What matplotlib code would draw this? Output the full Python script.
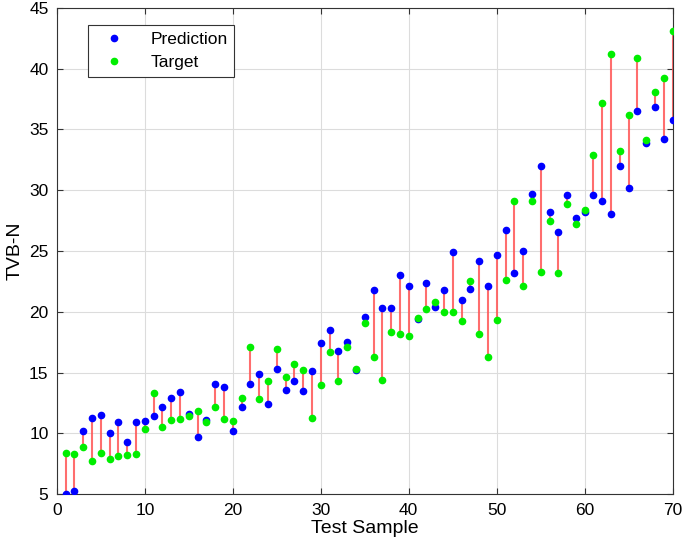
import matplotlib
matplotlib.use('Agg')
import matplotlib.pyplot as plt
import numpy as np

plt.rcParams['font.family'] = ['Liberation Sans', 'DejaVu Sans']

sample = np.arange(1, 71)
prediction = [5.0, 5.3, 10.2, 11.3, 11.5, 10.0, 10.9, 9.3, 10.9, 11.0,
              11.4, 12.2, 12.9, 13.4, 11.6, 9.7, 11.1, 14.1, 13.8, 10.2,
              12.2, 14.1, 14.9, 12.4, 15.3, 13.6, 14.3, 13.5, 15.1, 17.4,
              18.5, 16.8, 17.5, 15.2, 19.6, 21.8, 20.3, 20.3, 23.0, 22.1,
              19.4, 22.4, 20.4, 21.8, 24.9, 21.0, 21.9, 24.2, 22.1, 24.7,
              26.7, 23.2, 25.0, 29.7, 32.0, 28.2, 26.6, 29.6, 27.7, 28.2,
              29.6, 29.1, 28.0, 32.0, 30.2, 36.5, 33.9, 36.8, 34.2, 35.8]
target = [8.4, 8.3, 8.9, 7.7, 8.4, 7.9, 8.1, 8.2, 8.3, 10.4,
          13.3, 10.5, 11.1, 11.2, 11.4, 11.8, 10.9, 12.2, 11.2, 11.0,
          12.9, 17.1, 12.8, 14.3, 16.9, 14.6, 15.7, 15.2, 11.3, 14.0,
          16.7, 14.3, 17.1, 15.3, 19.1, 16.3, 14.4, 18.3, 18.2, 18.0,
          19.5, 20.2, 20.8, 20.0, 20.0, 19.2, 22.5, 18.2, 16.3, 19.3,
          22.6, 29.1, 22.1, 29.1, 23.3, 27.5, 23.2, 28.9, 27.2, 28.4,
          32.9, 37.2, 41.2, 33.2, 36.2, 40.9, 34.1, 38.1, 39.2, 43.1]

fig = plt.figure(figsize=(6.85, 5.54), dpi=100)
ax = fig.add_axes([0.083, 0.108, 0.899, 0.878])

ax.vlines(sample, prediction, target, colors='#ff5555', linewidth=1.5, alpha=0.85, zorder=2)
ax.plot(sample, prediction, 'o', color='#0000ff', markersize=4.5, label='Prediction', zorder=3)
ax.plot(sample, target, 'o', color='#00ee00', markersize=4.5, label='Target', zorder=3)

ax.set_xlim(0, 70)
ax.set_ylim(5, 45)
ax.set_xticks(range(0, 71, 10))
ax.set_yticks(range(5, 46, 5))
ax.grid(True, color='#dcdcdc', linewidth=0.8)
ax.set_axisbelow(True)
ax.tick_params(direction='in', top=True, right=True, labelsize=12.5, length=4,
               color='#333333', pad=6)
for s in ax.spines.values():
    s.set_color('#333333')
    s.set_linewidth(0.8)

ax.set_xlabel('Test Sample', fontsize=14, labelpad=2)
ax.set_ylabel('TVB-N', fontsize=14, labelpad=4)

leg = ax.legend(loc='upper left', bbox_to_anchor=(0.05, 0.965), borderaxespad=0,
                fontsize=12.5, fancybox=False, edgecolor='#333333', framealpha=1,
                handletextpad=1.0, handlelength=2.2, borderpad=0.4, labelspacing=0.45)
leg.get_frame().set_linewidth(0.8)

fig.savefig('out.png', dpi=100)
